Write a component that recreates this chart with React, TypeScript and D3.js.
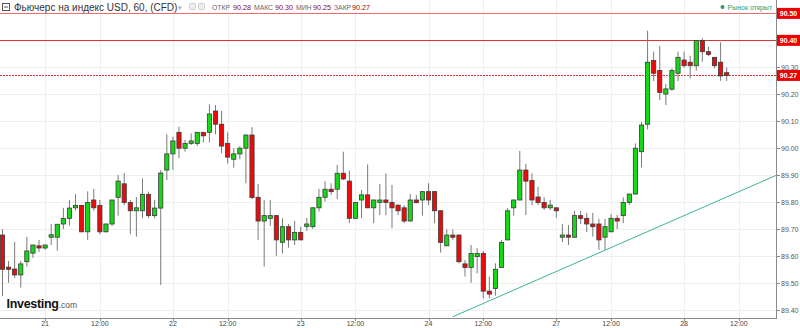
import React from 'react';
import * as d3 from 'd3';

const W = 800;
const H = 328;

// OHLC data (hourly candles)
const opens = [
  89.678, 89.559, 89.552, 89.530, 89.579, 89.611, 89.638, 89.630, 89.670, 89.670,
  89.719, 89.740, 89.779, 89.788, 89.690, 89.808, 89.788, 89.690, 89.719, 89.818,
  89.868, 89.799, 89.768, 89.768, 89.829, 89.750, 89.778, 89.919, 89.979, 90.059,
  90.000, 90.018, 90.018, 90.059, 90.059, 90.138, 90.089, 90.018, 89.959, 89.979,
  90.000, 90.049, 89.818, 89.730, 89.740, 89.750, 89.651, 89.709, 89.660, 89.688,
  89.710, 89.709, 89.779, 89.818, 89.848, 89.848, 89.907, 89.878, 89.740, 89.808,
  89.827, 89.779, 89.799, 89.808, 89.799, 89.789, 89.779, 89.730, 89.808, 89.808,
  89.839, 89.839, 89.768, 89.638, 89.678, 89.678, 89.571, 89.558, 89.598, 89.610,
  89.470, 89.480, 89.558, 89.660, 89.779, 89.808, 89.919, 89.880, 89.819, 89.799,
  89.779, 89.779, 89.670, 89.678, 89.670, 89.750, 89.740, 89.719, 89.719, 89.670,
  89.690, 89.740, 89.750, 89.799, 89.830, 89.987, 90.089, 90.325, 90.288, 90.201,
  90.219, 90.278, 90.327, 90.319, 90.306, 90.399, 90.358, 90.337, 90.319, 90.280,
];
const highs = [
  89.700, 89.582, 89.652, 89.582, 89.671, 89.641, 89.660, 89.641, 89.719, 89.718,
  89.779, 89.808, 89.830, 89.790, 89.840, 89.849, 89.808, 89.720, 89.808, 89.901,
  89.908, 89.808, 89.819, 89.888, 89.839, 89.808, 89.919, 90.052, 90.043, 90.080,
  90.031, 90.055, 90.060, 90.060, 90.163, 90.160, 90.138, 90.059, 90.000, 90.008,
  90.050, 90.078, 89.867, 89.808, 89.808, 89.752, 89.740, 89.719, 89.730, 89.709,
  89.741, 89.780, 89.849, 89.878, 89.870, 89.938, 89.987, 89.917, 89.800, 89.845,
  89.940, 89.809, 89.867, 89.907, 89.864, 89.790, 89.789, 89.830, 89.827, 89.840,
  89.870, 89.840, 89.770, 89.699, 89.699, 89.680, 89.585, 89.641, 89.629, 89.619,
  89.524, 89.573, 89.660, 89.779, 89.809, 89.990, 89.942, 89.907, 89.857, 89.818,
  89.808, 89.780, 89.719, 89.715, 89.768, 89.768, 89.760, 89.760, 89.738, 89.738,
  89.756, 89.752, 89.818, 89.831, 90.018, 90.098, 90.436, 90.358, 90.379, 90.238,
  90.296, 90.358, 90.358, 90.343, 90.400, 90.408, 90.377, 90.338, 90.393, 90.300,
];
const lows = [
  89.452, 89.501, 89.519, 89.483, 89.561, 89.593, 89.615, 89.623, 89.641, 89.620,
  89.700, 89.713, 89.768, 89.688, 89.660, 89.768, 89.681, 89.688, 89.712, 89.750,
  89.789, 89.681, 89.672, 89.740, 89.740, 89.740, 89.493, 89.882, 89.919, 89.963,
  89.987, 90.012, 90.008, 90.021, 90.021, 90.052, 89.981, 89.944, 89.928, 89.959,
  89.870, 89.811, 89.660, 89.561, 89.712, 89.601, 89.610, 89.631, 89.641, 89.659,
  89.693, 89.700, 89.765, 89.802, 89.827, 89.811, 89.882, 89.722, 89.739, 89.740,
  89.778, 89.722, 89.752, 89.752, 89.703, 89.752, 89.722, 89.729, 89.796, 89.750,
  89.789, 89.722, 89.613, 89.637, 89.660, 89.573, 89.524, 89.501, 89.536, 89.443,
  89.443, 89.453, 89.557, 89.659, 89.750, 89.807, 89.752, 89.789, 89.789, 89.771,
  89.771, 89.742, 89.652, 89.641, 89.669, 89.719, 89.689, 89.672, 89.623, 89.623,
  89.689, 89.700, 89.722, 89.789, 89.829, 89.929, 90.070, 90.249, 90.179, 90.160,
  90.213, 90.249, 90.299, 90.259, 90.288, 90.321, 90.342, 90.296, 90.250, 90.250,
];
const closes = [
  89.551, 89.551, 89.530, 89.571, 89.619, 89.641, 89.630, 89.641, 89.679, 89.718,
  89.739, 89.778, 89.788, 89.690, 89.799, 89.779, 89.690, 89.719, 89.808, 89.878,
  89.799, 89.768, 89.779, 89.829, 89.750, 89.778, 89.908, 89.979, 90.027, 90.000,
  90.018, 90.027, 90.059, 90.046, 90.127, 90.089, 90.008, 89.967, 89.979, 90.000,
  90.049, 89.817, 89.730, 89.750, 89.750, 89.660, 89.709, 89.660, 89.688, 89.660,
  89.719, 89.779, 89.818, 89.848, 89.839, 89.907, 89.886, 89.740, 89.799, 89.827,
  89.779, 89.808, 89.808, 89.799, 89.779, 89.768, 89.730, 89.808, 89.798, 89.839,
  89.808, 89.768, 89.651, 89.678, 89.670, 89.579, 89.558, 89.610, 89.610, 89.470,
  89.459, 89.551, 89.650, 89.768, 89.808, 89.919, 89.878, 89.808, 89.799, 89.779,
  89.789, 89.768, 89.678, 89.670, 89.750, 89.740, 89.719, 89.709, 89.660, 89.709,
  89.740, 89.730, 89.799, 89.830, 90.000, 90.086, 90.319, 90.278, 90.207, 90.220,
  90.288, 90.337, 90.306, 90.306, 90.399, 90.358, 90.348, 90.306, 90.268, 90.270,
];

// x-axis ticks: candle index and label
const tickIndex = [7, 16, 28, 37, 49, 58, 70, 79, 91, 100, 112, 121];
const tickLabels = ['21', '12:00', '22', '12:00', '23', '12:00', '24', '12:00', '27', '12:00', '28', '12:00'];

// price levels on the right axis
const priceTicks = [89.4, 89.5, 89.6, 89.7, 89.8, 89.9, 90.0, 90.1, 90.2, 90.3, 90.4, 90.5];

// horizontal marker lines
const markerPrices = [90.5, 90.4, 90.27];
const markerStyles = ['solidLight', 'solid', 'dotted'];

// trend line anchor points (candle index, price)
const trendIdx = [74.0, 127.2];
const trendPrice = [89.375, 89.9];

const headerTitle = 'Фьючерс на индекс USD, 60, (CFD)';
const ohlcLabels = ['ОТКР', 'МАКС', 'МИН', 'ЗАКР'];
const ohlcValues = ['90.28', '90.30', '90.25', '90.27'];
const statusText = 'Рынок открыт';

const FONT = 'Liberation Sans, Arial, sans-serif';

export default function App() {
  const plotRight = 776;
  const plotBottom = 318;
  const x = d3.scaleLinear().domain([0, 119]).range([2.5, 726.7]);
  const y = d3.scaleLinear().domain([89.4, 90.5]).range([310, 13.4]);
  const bodyW = 4.2;

  const trendLine = d3.line<number>()
    .x((_, i) => x(trendIdx[i]))
    .y((d) => y(d));

  const fmt = d3.format('.2f');

  const labelX = [212, 254, 296, 334];
  const valueX = [233, 275, 313, 352];

  return (
    <svg width={W} height={H} style={{ position: 'fixed', left: 0, top: 0 }}>
      <rect x={0} y={0} width={W} height={H} fill="#fff" />

      {/* grid */}
      <g shapeRendering="crispEdges">
        {priceTicks.map((p) => (
          <line key={'hg' + p} x1={0} x2={plotRight} y1={Math.round(y(p)) + 0.5} y2={Math.round(y(p)) + 0.5} stroke="#efefef" />
        ))}
        {tickIndex.map((t, i) => (
          <line key={'vg' + i} x1={Math.round(x(t)) + 0.5} x2={Math.round(x(t)) + 0.5} y1={0} y2={plotBottom} stroke="#efefef" />
        ))}
      </g>

      {/* trend line, masked to the plot area */}
      <path d={trendLine(trendPrice) || ''} fill="none" stroke="#3fb39d" strokeWidth={1} />
      <rect x={0} y={plotBottom + 1} width={W} height={H - plotBottom} fill="#fff" />
      <rect x={plotRight + 1} y={0} width={W - plotRight} height={H} fill="#fff" />

      {/* marker lines */}
      {markerPrices.map((p, i) => {
        const yy = Math.round(y(p)) + 0.5;
        const st = markerStyles[i];
        return (
          <line
            key={'ml' + i}
            x1={0}
            x2={plotRight}
            y1={yy}
            y2={yy}
            stroke={st === 'solidLight' ? '#f26b6b' : '#e03535'}
            strokeWidth={1}
            strokeDasharray={st === 'dotted' ? '1.5,1.5' : undefined}
            shapeRendering="crispEdges"
          />
        );
      })}

      {/* candles */}
      {opens.map((o, i) => {
        const c = closes[i];
        const up = c >= o;
        const cx = x(i);
        const top = y(Math.max(o, c));
        const bot = y(Math.min(o, c));
        const h = Math.max(bot - top, 1.5);
        return (
          <g key={'c' + i}>
            <line x1={cx} x2={cx} y1={y(highs[i])} y2={y(lows[i])} stroke="#7a7a7a" strokeWidth={1} />
            <rect x={cx - bodyW / 2} y={top} width={bodyW} height={h} fill={up ? '#16d816' : '#ee0a0a'} stroke="#3a3a3a" strokeWidth={0.8} />
          </g>
        );
      })}

      {/* axes */}
      <g shapeRendering="crispEdges">
        <line x1={plotRight + 0.5} x2={plotRight + 0.5} y1={0} y2={plotBottom + 1} stroke="#8a8a8a" />
        <line x1={0} x2={plotRight + 1} y1={plotBottom + 0.5} y2={plotBottom + 0.5} stroke="#8a8a8a" />
        {priceTicks.map((p) => (
          <line key={'rt' + p} x1={plotRight} x2={plotRight + 4} y1={Math.round(y(p)) + 0.5} y2={Math.round(y(p)) + 0.5} stroke="#8a8a8a" />
        ))}
        {tickIndex.map((t, i) => (
          <line key={'bt' + i} x1={Math.round(x(t)) + 0.5} x2={Math.round(x(t)) + 0.5} y1={plotBottom} y2={plotBottom + 3} stroke="#8a8a8a" />
        ))}
      </g>
      {priceTicks.map((p) => (
        <text key={'rl' + p} x={781} y={y(p) + 2.5} fontSize={7} fill="#555" fontFamily={FONT}>{fmt(p)}</text>
      ))}
      {tickIndex.map((t, i) => (
        <text key={'bl' + i} x={x(t)} y={326} fontSize={7} fill="#444" textAnchor="middle" fontFamily={FONT}>{tickLabels[i]}</text>
      ))}

      {/* header */}
      <rect x={2.5} y={3.5} width={7} height={7} fill="#fff" stroke="#555" strokeWidth={1} />
      <line x1={4} x2={8} y1={7} y2={7} stroke="#555" strokeWidth={1} />
      <text x={14} y={10.5} fontSize={10} fill="#333" fontFamily={FONT}>{headerTitle}</text>
      <text x={178} y={10} fontSize={7} fill="#aaa" fontFamily={FONT}>▾</text>
      <rect x={189.5} y={3.5} width={6} height={6} rx={1} fill="#eee" stroke="#ccc" />
      <rect x={198.5} y={3.5} width={6} height={6} rx={1} fill="#eee" stroke="#ccc" />
      {ohlcLabels.map((l, k) => (
        <text key={'ol' + k} x={labelX[k]} y={10} fontSize={6.8} fill="#666" fontFamily={FONT}>{l}</text>
      ))}
      {ohlcValues.map((v, k) => (
        <text key={'ov' + k} x={valueX[k]} y={10} fontSize={7.2} fill="#8b1010" fontFamily={FONT}>{v}</text>
      ))}
      <circle cx={722.5} cy={7} r={2} fill="#2e9a6a" />
      <text x={727.5} y={9.5} fontSize={7} fill="#2e9a6a" fontFamily={FONT}>{statusText}</text>

      {/* logo */}
      <text x={6.5} y={308} fontSize={12.5} fontWeight="bold" fill="#111" letterSpacing={-0.3} fontFamily={FONT}>
        Investing
        <tspan fontSize={8.5} fontWeight="normal" fill="#555" letterSpacing={0}>.com</tspan>
      </text>

      {/* marker labels */}
      {markerPrices.map((p, i) => (
        <g key={'mlab' + i}>
          <rect x={777} y={y(p) - 5.5} width={23} height={11} fill="#ee0000" />
          <text x={788.5} y={y(p) + 2.6} fontSize={7} fontWeight="bold" fill="#ffffff" textAnchor="middle" fontFamily={FONT}>{fmt(p)}</text>
        </g>
      ))}
    </svg>
  );
}
